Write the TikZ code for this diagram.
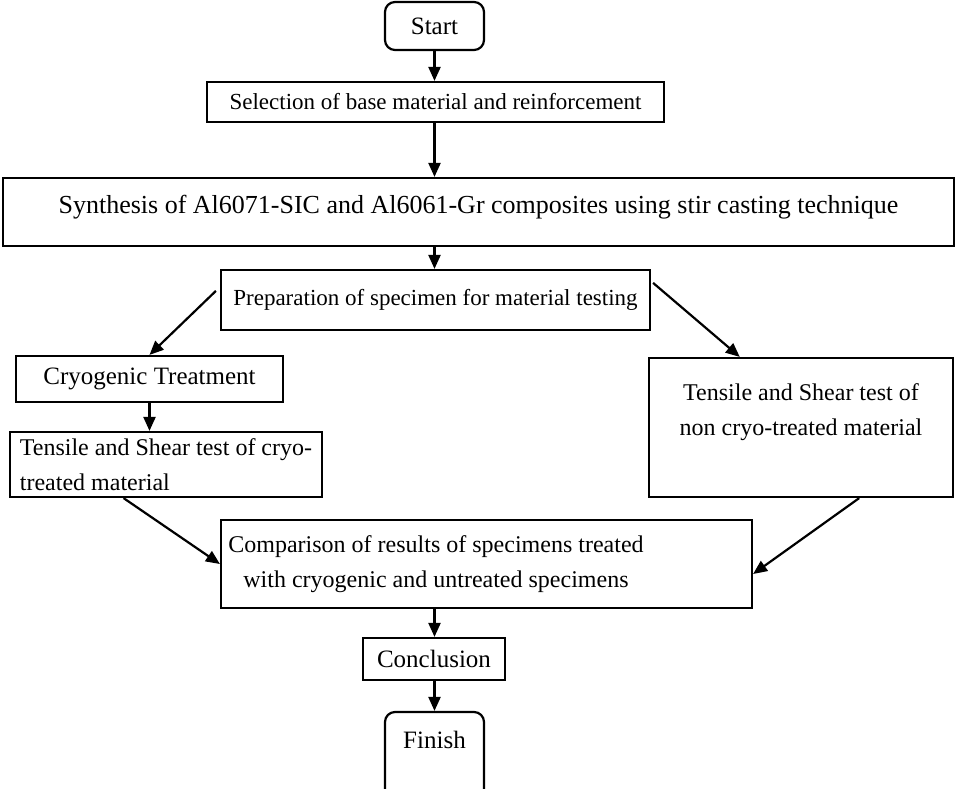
\documentclass[tikz,border=0pt]{standalone}
\usepackage{fontspec}
\setmainfont{Liberation Serif}
\usetikzlibrary{arrows.meta, positioning, calc}

\begin{document}
\begin{tikzpicture}[x=0.5pt, y=-0.5pt,
    box/.style={draw, line width=1.1pt, align=center, inner sep=0pt, font=\fontsize{12}{17.5}\selectfont},
    term/.style={box, rounded corners=5pt},
    arrow/.style={draw, line width=1.1pt, -{Triangle[length=7pt, width=6pt]}}
]
    \useasboundingbox (0,0) rectangle (958,788);

    \node[term, minimum width=49.5pt, minimum height=24pt, font=\fontsize{12.5}{17.5}\selectfont] (start) at (434.5,26) {Start};
    \node[box, minimum width=228.5pt, minimum height=20pt, font=\fontsize{11.5}{17.5}\selectfont] (select) at (435.5,102) {Selection of base material and reinforcement};
    \node[box, minimum width=475.5pt, text height=17.5pt, text depth=16.5pt, font=\fontsize{13}{17.5}\selectfont] (synth) at (478.5,212) {Synthesis of Al6071-SIC and Al6061-Gr composites using stir casting technique};
    \node[box, minimum width=214.5pt, minimum height=30pt, font=\fontsize{11.5}{17.5}\selectfont] (prep) at (435.5,300) {Preparation of specimen for material testing};
    \node[box, minimum width=133.5pt, minimum height=23pt, font=\fontsize{12.5}{17.5}\selectfont] (cryo) at (149.5,379) {Cryogenic Treatment};
    \node[box, minimum width=156pt, minimum height=32.5pt, align=left] (tcryo) at (166,464.5) {Tensile and Shear test of cryo-\\treated material};
    \node[box, minimum width=152pt, minimum height=69.5pt] (tnon) at (801,427.5) {Tensile and Shear test of\\non cryo-treated material\\ \mbox{}};
    \node[box, minimum width=265.5pt, minimum height=44pt] (comp) at (486.5,564) {};
    \node[align=center, inner sep=0pt, font=\fontsize{12}{17.5}\selectfont] (comptext) at (436,564) {Comparison of results of specimens treated\\with cryogenic and untreated specimens};
    \node[box, minimum width=71pt, minimum height=21pt, font=\fontsize{12.5}{17.5}\selectfont] (concl) at (434,659) {Conclusion};
    \node[term, minimum width=49.5pt, text height=18pt, text depth=30pt, font=\fontsize{12.5}{17.5}\selectfont] (finish) at (434.5,760) {Finish};

    \draw[arrow] (start.south) -- (select.north -| start);
    \draw[arrow] (select.south -| start) -- (synth.north -| start);
    \draw[arrow] (synth.south -| start) -- (prep.north -| start);
    \draw[arrow] ([xshift=-2pt, yshift=-11pt]prep.north west) -- (cryo.north);
    \draw[arrow] ([xshift=1pt, yshift=-7pt]prep.north east) -- ($(tnon.north west)!0.3!(tnon.north east)$);
    \draw[arrow] (cryo.south) -- (cryo.south |- tcryo.north);
    \draw[arrow] ($(tcryo.south west)!0.365!(tcryo.south east)$) -- (comp.west);
    \draw[arrow] ($(tnon.south west)!0.69!(tnon.south east)$) -- ([yshift=-5pt]comp.east);
    \draw[arrow] (comp.south -| start) -- (concl.north -| start);
    \draw[arrow] (concl.south -| start) -- (finish.north -| start);

\end{tikzpicture}
\end{document}
